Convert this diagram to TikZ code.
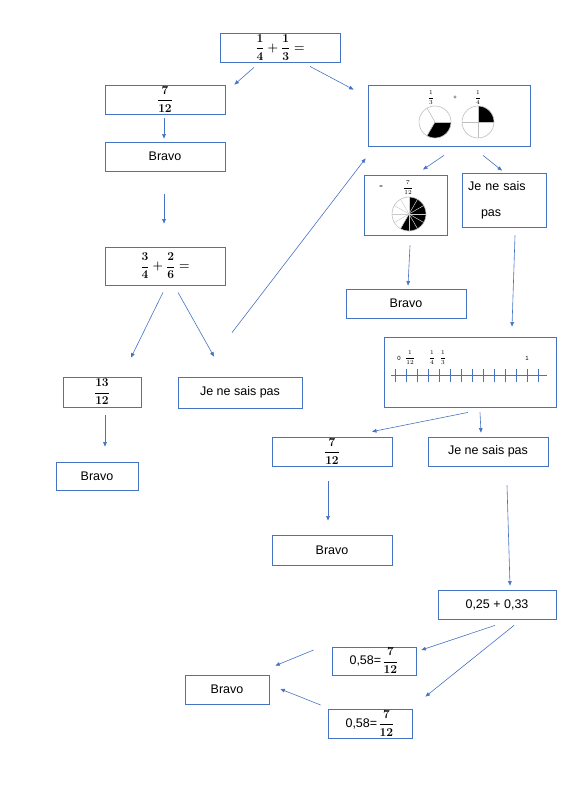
\documentclass[tikz,border=0pt]{standalone}
\usepackage{amsmath}
\usepackage{fontspec}
\setmainfont{Liberation Sans}
\usetikzlibrary{arrows.meta}
\definecolor{myblue}{RGB}{68,114,196}

\begin{document}
\begin{tikzpicture}[x=1pt,y=-1pt,
    mybox/.style={draw=myblue,line width=0.8pt,inner sep=0pt,font=\fontsize{12.5}{15}\selectfont\boldmath},
    fracbox/.style={mybox,font=\fontsize{11.5}{13}\selectfont\boldmath},
    tinylabel/.style={inner sep=0pt,font=\fontsize{6}{7}\selectfont},
    myarrow/.style={draw=myblue,line width=0.6pt,-{Triangle[length=4.5pt,width=3.6pt]}},
    piegray/.style={draw=black!25,line width=0.6pt}
  ]
  \useasboundingbox (0,0) rectangle (566,800);
  % boxes, left branch
  \node [fracbox,minimum width=120pt,minimum height=29pt] (start) at (280,47.5) {$\dfrac14+\dfrac13=$};
  \node [fracbox,minimum width=120pt,minimum height=29pt] (sevenA) at (165,99.5) {$\dfrac{7}{12}$};
  \node [mybox,minimum width=120pt,minimum height=29pt] (bravoA) at (165,156.5) {Bravo};
  \node [fracbox,minimum width=120pt,minimum height=38pt] (second) at (165,266) {$\dfrac34+\dfrac26=$};
  \node [fracbox,minimum width=78pt,minimum height=30pt] (thirteen) at (102,392) {$\dfrac{13}{12}$};
  \node [mybox,minimum width=124pt,minimum height=31pt] (jnspA) at (240,392.5) {Je ne sais pas};
  \node [mybox,minimum width=82pt,minimum height=28pt] (bravoB) at (97,476) {Bravo};
  % boxes, right branch
  \node [mybox,minimum width=162pt,minimum height=61pt] (pies) at (449,115.5) {};
  \node [mybox,minimum width=83pt,minimum height=60pt] (pieseven) at (405.5,205) {};
  \node [mybox,minimum width=84pt,minimum height=54pt,text width=72pt,align=left] (jnspB) at (504,200)
        {Je ne sais\\[11pt]\hspace*{13pt}pas};
  \node [mybox,minimum width=120pt,minimum height=29pt] (bravoC) at (406,303.5) {Bravo};
  \node [mybox,minimum width=172pt,minimum height=70pt] (nline) at (470,372) {};
  \node [fracbox,minimum width=120pt,minimum height=29pt] (sevenB) at (332,451.5) {$\dfrac{7}{12}$};
  \node [mybox,minimum width=120pt,minimum height=29pt] (jnspC) at (488,451.5) {Je ne sais pas};
  \node [mybox,minimum width=120pt,minimum height=30pt] (bravoD) at (332,550) {Bravo};
  \node [mybox,minimum width=118pt,minimum height=29pt] (decimal) at (497,604.5) {0,25 + 0,33};
  \node [mybox,minimum width=84pt,minimum height=28pt] (equalA) at (374,661) {0,58={\footnotesize\,}$\dfrac{7}{12}$};
  \node [mybox,minimum width=84pt,minimum height=29pt] (bravoE) at (227,689.5) {Bravo};
  \node [mybox,minimum width=84pt,minimum height=29pt] (equalB) at (370,723.5) {0,58={\footnotesize\,}$\dfrac{7}{12}$};

  % pies: one third and one quarter
  \node [tinylabel] (thirdlab) at (431,98) {$\dfrac13$};
  \node [tinylabel] (pluslab) at (455,98) {+};
  \node [tinylabel] (quarterlab) at (478,98) {$\dfrac14$};
  \begin{scope}[shift={(435,122)},y=1pt]
    \fill (0,0) -- (240:16) arc[start angle=240,end angle=360,radius=16] -- cycle;
    \foreach \a in {0,120,240} \draw [piegray] (0,0) -- (\a:16);
    \draw [piegray] (0,0) circle [radius=16];
  \end{scope}
  \begin{scope}[shift={(478,122)},y=1pt]
    \fill (0,0) -- (0:16) arc[start angle=0,end angle=90,radius=16] -- cycle;
    \foreach \a in {0,90,180,270} \draw [piegray] (0,0) -- (\a:16);
    \draw [piegray] (0,0) circle [radius=16];
  \end{scope}
  % pie: seven twelfths
  \node [tinylabel] (eqlab) at (381,187) {=};
  \node [tinylabel] (sevenlab) at (408,188) {$\dfrac{7}{12}$};
  \begin{scope}[shift={(409,214)},y=1pt]
    \fill (0,0) -- (90:17) arc[start angle=90,end angle=-120,radius=17] -- cycle;
    \foreach \a in {0,30,...,330} \draw [draw=black!20,line width=0.5pt] (0,0) -- (\a:17);
    \draw [piegray] (0,0) circle [radius=17];
  \end{scope}

  % number line
  \draw [myblue,line width=0.8pt] (391,375) -- (547,375);
  \foreach \i in {0,...,13}
    \draw [myblue,line width=0.7pt] (395+11*\i,369) -- (395+11*\i,382);
  \node [tinylabel] (zerolab) at (399,358) {0};
  \node [tinylabel] (twelfthlab) at (410,358) {$\dfrac{1}{12}$};
  \node [tinylabel] (fourthlab) at (432,358) {$\dfrac14$};
  \node [tinylabel] (thirdlabB) at (443,358) {$\dfrac13$};
  \node [tinylabel] (onelab) at (527,358) {1};

  % connectors
  \draw [myarrow] ([shift={(-26,5)}]start.south) -- ([shift={(9,0)}]sevenA.north east);
  \draw [myarrow] ([shift={(30,4)}]start.south) -- ([shift={(-14,5)}]pies.north west);
  \draw [myarrow] ([shift={(-1,4)}]sevenA.south) -- ([shift={(-1,-3)}]bravoA.north);
  \draw [myarrow] ([shift={(-1,23)}]bravoA.south) -- ([shift={(-1,-23)}]second.north);
  \draw [myarrow] ([shift={(-2,7)}]second.south) -- ([shift={(29,-19)}]thirteen.north);
  \draw [myarrow] ([shift={(13,7)}]second.south) -- ([shift={(-26,-20)}]jnspA.north);
  \draw [myarrow] ([shift={(-8,-44)}]jnspA.north) -- ([shift={(-2,12)}]pies.south west);
  \draw [myarrow] ([shift={(3,8)}]thirteen.south) -- ([shift={(8,-15)}]bravoB.north);
  \draw [myarrow] ([shift={(-5,9)}]pies.south) -- ([shift={(17.5,-5)}]pieseven.north);
  \draw [myarrow] ([shift={(34,9)}]pies.south) -- ([shift={(-2,-2)}]jnspB.north);
  \draw [myarrow] ([shift={(4.5,10)}]pieseven.south) -- ([shift={(2,-3)}]bravoC.north);
  \draw [myarrow] ([shift={(11,8)}]jnspB.south) -- ([shift={(42,-10)}]nline.north);
  \draw [myarrow] ([shift={(-2,5)}]nline.south) -- ([shift={(40,-5)}]sevenB.north);
  \draw [myarrow] ([shift={(10,5)}]nline.south) -- ([shift={(-7,-4)}]jnspC.north);
  \draw [myarrow] ([shift={(-4,15)}]sevenB.south) -- ([shift={(-4,-14)}]bravoD.north);
  \draw [myarrow] ([shift={(19,19)}]jnspC.south) -- ([shift={(13,-4)}]decimal.north);
  \draw [myarrow] ([shift={(-2,6)}]decimal.south) -- ([shift={(5,-11)}]equalA.east);
  \draw [myarrow] ([shift={(17,6)}]decimal.south) -- ([shift={(13,-12)}]equalB.north east);
  \draw [myarrow] ([shift={(-18,-11)}]equalA.west) -- ([shift={(6,-9)}]bravoE.north east);
  \draw [myarrow] ([shift={(-7,-18.5)}]equalB.west) -- ([shift={(11,-0.5)}]bravoE.east);
\end{tikzpicture}
\end{document}
